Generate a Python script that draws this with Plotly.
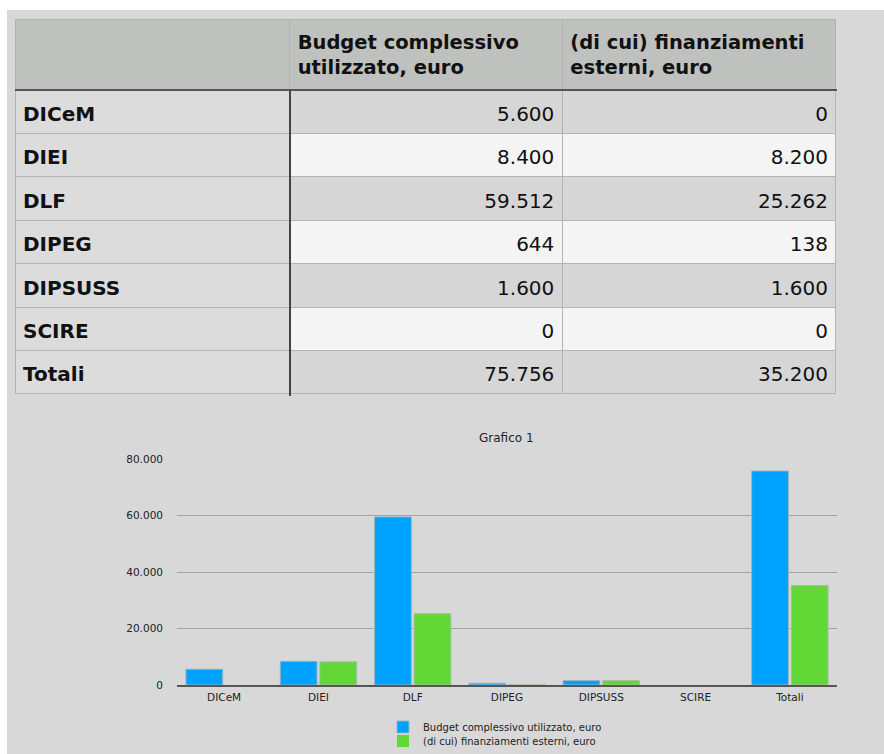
import plotly.graph_objects as go

# Dipartimenti e importi (euro)
categories = ["DICeM", "DIEI", "DLF", "DIPEG", "DIPSUSS", "SCIRE", "Totali"]
budget_utilizzato = [5600, 8400, 59512, 644, 1600, 0, 75756]
finanziamenti_esterni = [0, 8200, 25262, 138, 1600, 0, 35200]

series_names = ["Budget complessivo utilizzato, euro",
                "(di cui) finanziamenti esterni, euro"]
header_labels = ["", "Budget complessivo<br>utilizzato, euro",
                 "(di cui) finanziamenti<br>esterni, euro"]
y_ticks = [0, 20000, 40000, 60000, 80000]

W, H = 884, 754
BLUE = "#00a2ff"
GREEN = "#61d836"
FONT = "DejaVu Sans, sans-serif"
TEXT_DROP = 4  # text layer sits a few pixels lower than the cell grid


def euro(v):
    # Italian thousands separator, rendered through the markup path of the table
    return "<span>" + f"{v:,}".replace(",", ".") + "</span>"


def px(x0, x1):
    return [x0 / W, x1 / W]


def py(top, bottom):
    return [1 - bottom / H, 1 - top / H]


def outline_widths(values):
    # no outline on empty bars, so nothing sits on the baseline
    return [0 if v == 0 else 1 for v in values]


n = len(categories)
row_fill = ["#d6d6d6" if i % 2 == 0 else "#f4f4f4" for i in range(n)]
col_widths = [275, 273, 274]
HEADER_H, ROW_H = 71, 43.4

fig = go.Figure()

# cell grid: fills and rules
fig.add_trace(go.Table(
    domain=dict(x=px(15, 837), y=py(19, 395)),
    columnwidth=col_widths,
    header=dict(
        values=["", "", ""],
        fill_color="#bfc1bf",
        line=dict(color="#b0b2b0", width=1),
        height=HEADER_H,
    ),
    cells=dict(
        values=[[""] * n, [""] * n, [""] * n],
        fill_color=[["#dcdcdc"] * n, row_fill, row_fill],
        line=dict(color="#b4b4b4", width=1),
        height=ROW_H,
    ),
))

# cell contents
fig.add_trace(go.Table(
    domain=dict(x=px(15, 837), y=py(19 + TEXT_DROP, 395 + TEXT_DROP)),
    columnwidth=col_widths,
    header=dict(
        values=header_labels,
        fill_color="rgba(0,0,0,0)",
        line=dict(color="rgba(0,0,0,0)", width=0),
        align="left",
        height=HEADER_H,
        font=dict(family=FONT, size=19.5, color="#111111", weight="bold"),
    ),
    cells=dict(
        values=[
            [f"<b>{c}</b>" for c in categories],
            [euro(v) for v in budget_utilizzato],
            [euro(v) for v in finanziamenti_esterni],
        ],
        fill_color="rgba(0,0,0,0)",
        line=dict(color="rgba(0,0,0,0)", width=0),
        align=["left", "right", "right"],
        height=ROW_H,
        font=dict(family=FONT, size=20, color="#111111"),
    ),
))

fig.add_trace(go.Bar(
    x=categories, y=budget_utilizzato, name=series_names[0],
    marker=dict(color=BLUE, line=dict(color="#9fb4c4",
                                      width=outline_widths(budget_utilizzato))),
    legend="legend",
))
fig.add_trace(go.Bar(
    x=categories, y=finanziamenti_esterni, name=series_names[1],
    marker=dict(color=GREEN, line=dict(color="#a8c0a0",
                                       width=outline_widths(finanziamenti_esterni))),
    legend="legend2",
))

shapes = [
    # page background
    dict(type="rect", xref="paper", yref="paper", x0=7 / W, x1=1, y0=0,
         y1=1 - 10 / H, fillcolor="#d8d8d8", line_width=0, layer="below"),
    # heavy rule under the header row
    dict(type="line", xref="paper", yref="paper", x0=15 / W, x1=837 / W,
         y0=1 - 90 / H, y1=1 - 90 / H, line=dict(color="#555555", width=2)),
    # heavy rule after the label column
    dict(type="line", xref="paper", yref="paper", x0=290 / W, x1=290 / W,
         y0=1 - 396 / H, y1=1 - 90 / H, line=dict(color="#444444", width=2)),
]

legend_style = dict(
    xanchor="left", yanchor="middle", bgcolor="rgba(0,0,0,0)",
    font=dict(family=FONT, size=10, color="#222222"),
    itemwidth=30, borderwidth=0,
)

fig.update_layout(
    width=W, height=H,
    margin=dict(l=0, r=0, t=0, b=0, pad=0, autoexpand=False),
    paper_bgcolor="#ffffff",
    plot_bgcolor="rgba(0,0,0,0)",
    separators=",.",
    barmode="group",
    bargap=0.16,
    bargroupgap=0.07,
    shapes=shapes,
    font=dict(family=FONT, color="#222222"),
    xaxis=dict(
        domain=px(177, 837), anchor="y",
        showgrid=False, showline=True, linecolor="#555555", linewidth=1.5,
        ticks="", tickfont=dict(size=10.5, color="#222222"),
        ticklabelstandoff=2,
    ),
    yaxis=dict(
        domain=py(459, 685), anchor="x",
        range=[0, 80000], tickvals=y_ticks, tickformat=",.0f",
        showgrid=True, gridcolor="#a3a3a3", gridwidth=1,
        zeroline=False, showline=False, ticks="",
        tickfont=dict(size=10.5, color="#222222"), ticklabelstandoff=13,
    ),
    showlegend=True,
    legend=dict(x=383 / W, y=1 - 727 / H, **legend_style),
    legend2=dict(x=383 / W, y=1 - 741 / H, **legend_style),
    annotations=[dict(
        text="Grafico 1", xref="paper", yref="paper",
        x=507 / W, y=1 - 438 / H, xanchor="center", yanchor="middle",
        showarrow=False, font=dict(family=FONT, size=12, color="#222222"),
    )],
)

fig.write_html("out.html")
